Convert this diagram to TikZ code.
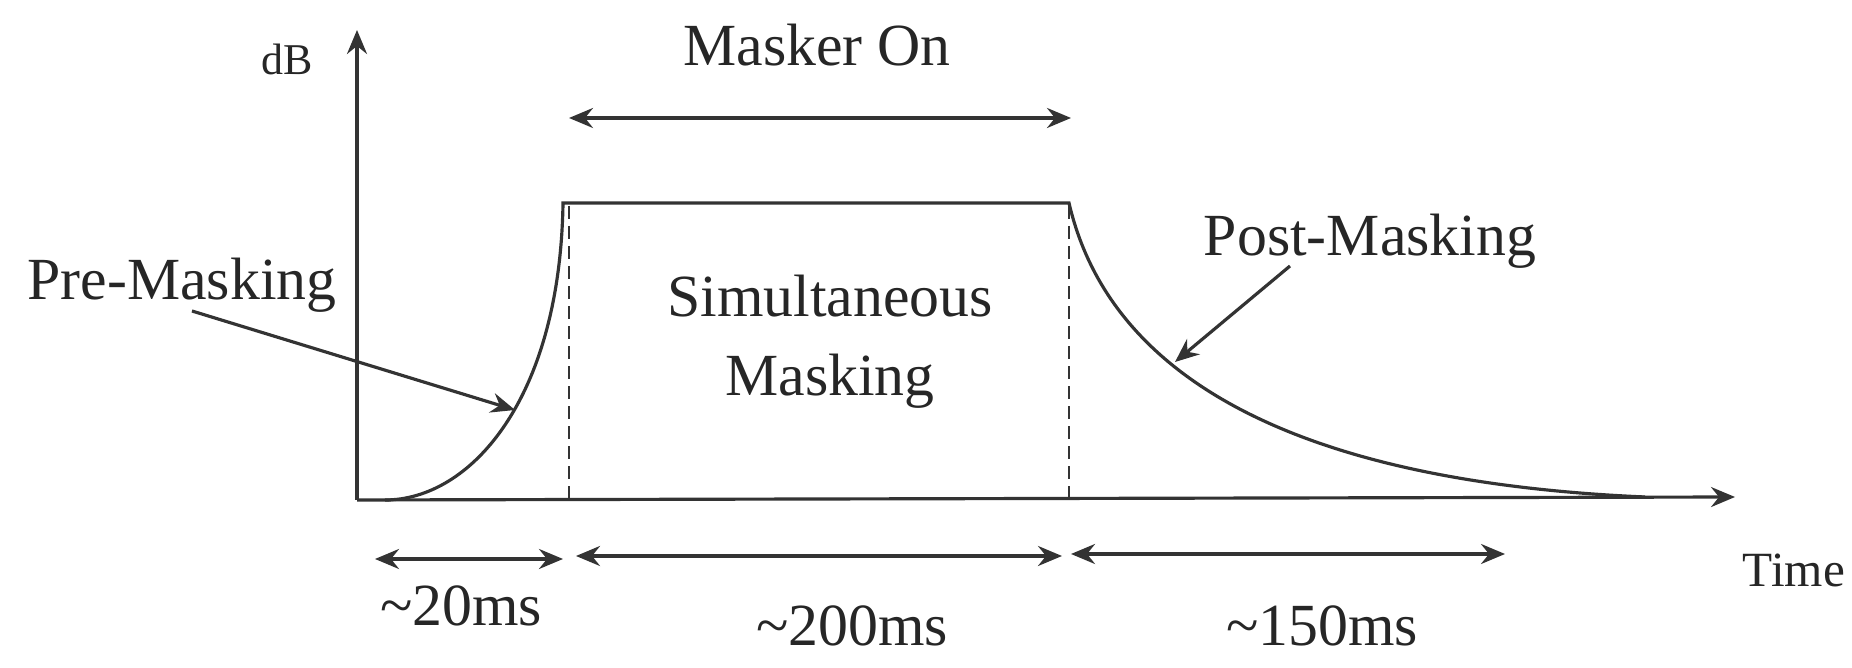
\documentclass[tikz,border=0pt]{standalone}
\usepackage{fontspec}
\setmainfont{Liberation Serif}
\usetikzlibrary{arrows.meta}
\begin{document}
\begin{tikzpicture}[x=0.01cm,y=-0.01cm,
  ink/.style={draw=black!80, line width=0.9pt},
  arr/.style={ink, -{Stealth[length=2.4mm,width=2mm,inset=0.8mm]}},
  dbl/.style={ink, {Stealth[length=2.4mm,width=2mm,inset=0.8mm]}-{Stealth[length=2.4mm,width=2mm,inset=0.8mm]}},
  dsh/.style={draw=black!80, line width=0.8pt, dash pattern=on 1.3mm off 0.7mm},
  lbl/.style={text=black!85, font=\fontsize{17}{23}\selectfont, inner sep=0pt, anchor=base},
  small/.style={text=black!85, font=\fontsize{12.5}{15}\selectfont, inner sep=0pt, anchor=base}]
\useasboundingbox (0,0) rectangle (1852,668);
% axes
\coordinate (O) at (357,500);
\coordinate (Ytop) at (357,30);
\coordinate (Xend) at (1735,497);
\draw[arr] (O) -- (Ytop);
\draw[arr] (O) -- (Xend);
% masking curve
\coordinate (c0) at (385,500);
\coordinate (c1) at (563,203);
\coordinate (c2) at (1069,203);
\coordinate (c3) at (1645,497);
\draw[ink] (c0) .. controls (470,500) and (560,400) .. (c1) -- (c2)
  .. controls (1110,380) and (1300,482) .. (c3);
% dashed verticals
\coordinate (d1t) at (569,206); \coordinate (d1b) at (569,500);
\coordinate (d2t) at (1069,206); \coordinate (d2b) at (1069,498);
\draw[dsh] (d1t) -- (d1b);
\draw[dsh] (d2t) -- (d2b);
% labels
\node[small] (dB) at (287,75) {dB};
\node[lbl] (mon) at (817,66) {Masker On};
\coordinate (m1) at (569,118); \coordinate (m2) at (1071,118);
\draw[dbl] (m1) -- (m2);
\node[lbl] (pre) at (182,300) {Pre-Masking};
\coordinate (preA) at (192,311); \coordinate (preB) at (515,410);
\draw[arr] (preA) -- (preB);
\node[lbl] (sim) at (830,317) {Simultaneous};
\node[lbl] (sim2) at (830,396) {Masking};
\node[lbl] (post) at (1370,256) {Post-Masking};
\coordinate (postA) at (1290,266); \coordinate (postB) at (1175,362);
\draw[arr] (postA) -- (postB);
% dimension arrows
\coordinate (a1) at (375,559); \coordinate (a2) at (563,559);
\coordinate (b1) at (576,556); \coordinate (b2) at (1062,556);
\coordinate (e1) at (1071,554); \coordinate (e2) at (1505,554);
\draw[dbl] (a1) -- (a2);
\draw[dbl] (b1) -- (b2);
\draw[dbl] (e1) -- (e2);
\node[lbl] (t20) at (461,626) {\textasciitilde20ms};
\node[lbl] (t200) at (852,646) {\textasciitilde200ms};
\node[lbl] (t150) at (1322,646) {\textasciitilde150ms};
\node[text=black!85, font=\fontsize{14}{17}\selectfont, inner sep=0pt, anchor=base] (time) at (1794,587) {Time};
\end{tikzpicture}
\end{document}
